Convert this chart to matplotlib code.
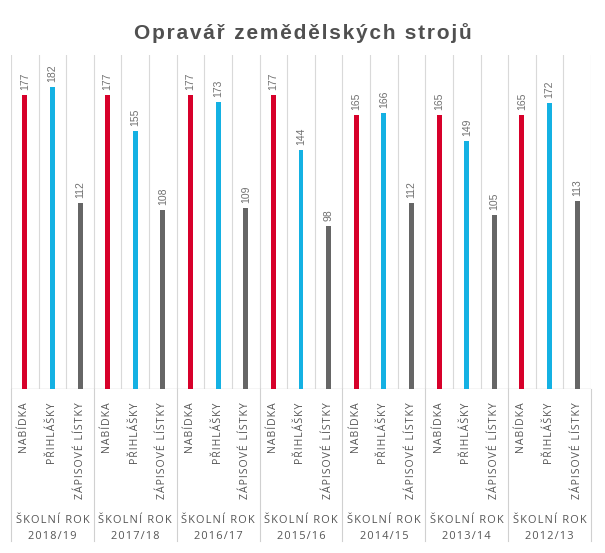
import numpy as np
import matplotlib
matplotlib.use("Agg")
import matplotlib.pyplot as plt
import matplotlib.transforms as mtransforms

# data
years = ["2018/19", "2017/18", "2016/17", "2015/16", "2014/15", "2013/14", "2012/13"]
series = ["NABÍDKA", "PŘIHLÁŠKY", "ZÁPISOVÉ LÍSTKY"]
nabidka = [177, 177, 177, 177, 165, 165, 165]
prihlasky = [182, 155, 173, 144, 166, 149, 172]
zapisove = [112, 108, 109, 98, 112, 105, 113]
colors = ["#d7002a", "#14b1e3", "#666666"]


def spaced(s):
    # fake letter spacing with hair spaces
    return "\u200a".join(s)


fig = plt.figure(figsize=(6.05, 5.53), dpi=100)
ax = fig.add_axes([11 / 605, 164 / 553, 580 / 605, 334 / 553])

n = len(years)
values = [nabidka, prihlasky, zapisove]
for j, vals in enumerate(values):
    x = np.arange(n) * 3 + j
    ax.bar(x, vals, width=0.18, color=colors[j], zorder=3)
    for xi, v in zip(x, vals):
        ax.text(xi, v + 3, str(v), rotation=90, ha="center", va="bottom",
                fontsize=7.5, color="#707070", family="Liberation Sans")

ax.set_xlim(-0.5, 3 * n - 0.5)
ax.set_ylim(0, 201)

# light cell lines
for k in range(3 * n + 1):
    ax.axvline(k - 0.5, color="#d9d9d9", lw=0.8, zorder=1)
ax.axhline(0, color="#cfcfcf", lw=1, zorder=2)

for s in ax.spines.values():
    s.set_visible(False)
ax.set_xticks([])
ax.set_yticks([])

trans = mtransforms.blended_transform_factory(ax.transData, ax.transAxes)
# group separators in the label area
for g in range(n + 1):
    ax.plot([3 * g - 0.5, 3 * g - 0.5], [0, -0.455], color="#d0d0d0", lw=0.8,
            transform=trans, clip_on=False)

lab_font = ["Open Sans", "DejaVu Sans"]
for g in range(n):
    for j, name in enumerate(series):
        ax.text(3 * g + j, -0.04, spaced(name), rotation=90, ha="center", va="top",
                fontsize=7.6, color="#555555", family=lab_font, transform=trans)
    ax.text(3 * g + 1, -0.395, spaced("ŠKOLNÍ ROK"), ha="center", va="center",
            fontsize=7.9, color="#555555", family=lab_font, transform=trans)
    ax.text(3 * g + 1, -0.443, spaced(years[g]), ha="center", va="center",
            fontsize=7.9, color="#555555", family=lab_font, transform=trans)

fig.text(0.5, 1 - 33 / 553, spaced("Opravář zemědělských strojů"), ha="center",
         va="center", fontsize=15, fontweight="bold", color="#505050",
         family=["Liberation Sans", "DejaVu Sans"])

fig.savefig("out.png", dpi=100)
